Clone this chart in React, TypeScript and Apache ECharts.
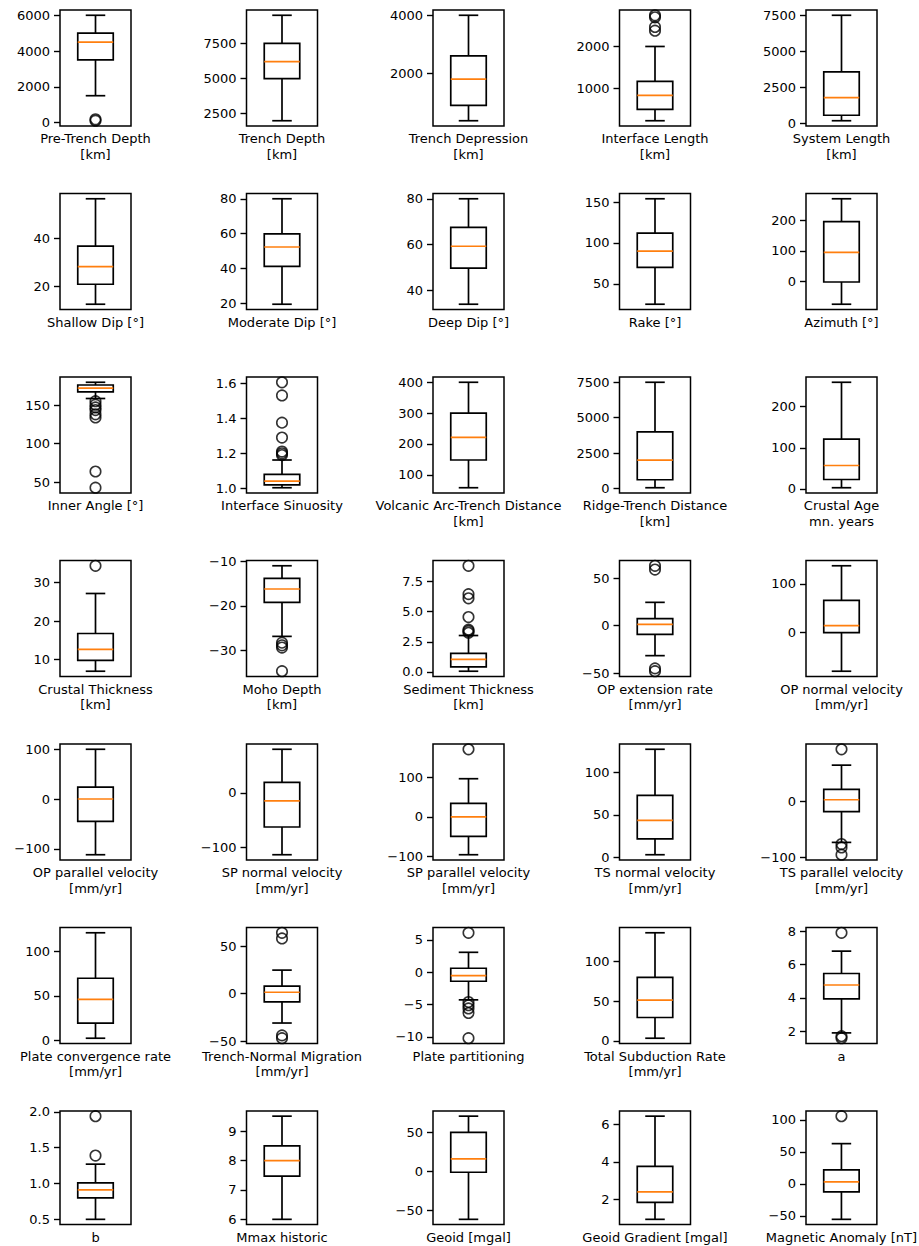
import React, { useEffect, useRef } from "react";
import * as echarts from "echarts";

// ---------------- data ----------------
const labels: string[] = [
  "Pre-Trench Depth\n[km]", "Trench Depth\n[km]", "Trench Depression\n[km]", "Interface Length\n[km]", "System Length\n[km]",
  "Shallow Dip [°]", "Moderate Dip [°]", "Deep Dip [°]", "Rake [°]", "Azimuth [°]",
  "Inner Angle [°]", "Interface Sinuosity", "Volcanic Arc-Trench Distance\n[km]", "Ridge-Trench Distance\n[km]", "Crustal Age\nmn. years",
  "Crustal Thickness\n[km]", "Moho Depth\n[km]", "Sediment Thickness\n[km]", "OP extension rate\n[mm/yr]", "OP normal velocity\n[mm/yr]",
  "OP parallel velocity\n[mm/yr]", "SP normal velocity\n[mm/yr]", "SP parallel velocity\n[mm/yr]", "TS normal velocity\n[mm/yr]", "TS parallel velocity\n[mm/yr]",
  "Plate convergence rate\n[mm/yr]", "Trench-Normal Migration\n[mm/yr]", "Plate partitioning", "Total Subduction Rate\n[mm/yr]", "a",
  "b", "Mmax historic", "Geoid [mgal]", "Geoid Gradient [mgal]", "Magnetic Anomaly [nT]",
];

const whiskerLow: number[] = [
  1500, 2000, 370, 215, 200,
  12.5, 19.4, 33.8, 25, -75,
  158.5, 1.004, 58, 50, 3,
  7, -26.8, 0.06, -31.6, -80,
  -112, -114, -95, 3, -73,
  2.3, -31, -4.27, 3.4, 1.9,
  0.5, 6.0, -62, 0.96, -55.5,
];
const quartile1: number[] = [
  3500, 5000, 900, 490, 580,
  20.8, 41.2, 49.6, 70, -2,
  167, 1.02, 148, 615, 23,
  9.8, -19.2, 0.42, -9.2, -0.7,
  -45, -63, -49, 21.7, -18,
  19.2, -8.8, -1.39, 29.4, 3.94,
  0.8, 7.47, -1.3, 1.86, -12.4,
];
const medians: number[] = [
  4500, 6200, 1800, 825, 1800,
  28.1, 52.3, 59.2, 90, 95,
  172, 1.042, 221, 2000, 57,
  12.7, -16.2, 1.04, 1.4, 14,
  0, -15, 0, 43.3, 3,
  46, 1.4, -0.51, 51.3, 4.77,
  0.91, 8.0, 16, 2.42, 3,
];
const quartile3: number[] = [
  5000, 7500, 2600, 1160, 3580,
  36.6, 59.8, 67.5, 112, 196,
  176, 1.08, 300, 4000, 121,
  16.8, -13.8, 1.54, 7.4, 66,
  24, 19, 34, 72.8, 21.6,
  69.8, 7.8, 0.62, 79.8, 5.46,
  1.01, 8.5, 50, 3.77, 22,
];
const whiskerHigh: number[] = [
  6000, 9500, 4000, 2000, 7500,
  56.3, 80, 80, 154, 271,
  179.5, 1.162, 400, 7500, 259,
  27.2, -11, 3.02, 24.5, 137,
  100, 80, 96, 127, 64.7,
  121, 24.7, 3.08, 135.7, 6.8,
  1.27, 9.51, 71, 6.43, 63,
];
const outliers: number[][] = [
  [100, 180], [], [], [2380, 2470, 2700, 2750], [],
  [], [], [], [], [],
  [155, 150.5, 147, 143.5, 138, 134, 64, 43], [1.19, 1.2, 1.21, 1.29, 1.375, 1.53, 1.605], [], [], [],
  [34.4], [-28.2, -28.8, -29.3, -34.6], [3.25, 3.4, 3.5, 4.55, 6.1, 6.45, 8.8], [-48, -45, 59, 63], [],
  [], [], [170], [], [-95, -82, -76, 93],
  [], [-47, -44, 58, 64], [-10.2, -6.3, -5.6, -5.1, -4.6, 6.1], [], [1.58, 1.7, 7.9],
  [1.39, 1.94], [], [], [], [106],
];
const tickValues: number[][] = [
  [0, 2000, 4000, 6000], [2500, 5000, 7500], [2000, 4000], [1000, 2000], [0, 2500, 5000, 7500],
  [20, 40], [20, 40, 60, 80], [40, 60, 80], [50, 100, 150], [0, 100, 200],
  [50, 100, 150], [1.0, 1.2, 1.4, 1.6], [100, 200, 300, 400], [0, 2500, 5000, 7500], [0, 100, 200],
  [10, 20, 30], [-30, -20, -10], [0, 2.5, 5, 7.5], [-50, 0, 50], [0, 100],
  [-100, 0, 100], [-100, 0], [-100, 0, 100], [0, 50, 100], [-100, 0],
  [0, 50, 100], [-50, 0, 50], [-10, -5, 0, 5], [0, 50, 100], [2, 4, 6, 8],
  [0.5, 1.0, 1.5, 2.0], [6, 7, 8, 9], [-50, 0, 50], [2, 4, 6], [-50, 0, 50, 100],
];

// ---------------- layout ----------------
const COL_LEFT = [60, 246.5, 433, 619.5, 806];
const ROW_TOP = [10, 193.5, 377, 560.5, 744, 927.5, 1111];
const PW = 71;
const PH = 116;
const FONT = "DejaVu Sans";
const LW = 1.7;

function decimalsOf(vals: number[]): number {
  let d = 0;
  vals.forEach((v) => {
    const s = String(v);
    const k = s.indexOf(".");
    if (k >= 0) d = Math.max(d, s.length - k - 1);
  });
  return d;
}

function buildOption() {
  const grid: any[] = [];
  const xAxis: any[] = [];
  const yAxis: any[] = [];
  const series: any[] = [];

  labels.forEach((label, i) => {
    const r = Math.floor(i / 5);
    const c = i % 5;
    grid.push({
      left: COL_LEFT[c],
      top: ROW_TOP[r],
      width: PW,
      height: PH,
      show: true,
      borderColor: "#000",
      borderWidth: 1.5,
      backgroundColor: "rgba(0,0,0,0)",
    });
    const all = [whiskerLow[i], whiskerHigh[i], ...outliers[i]];
    const lo = Math.min(...all);
    const hi = Math.max(...all);
    const pad = (hi - lo) * 0.05;
    const dec = decimalsOf(tickValues[i]);
    xAxis.push({
      type: "category",
      gridIndex: i,
      data: ["1"],
      boundaryGap: true,
      axisLine: { show: false },
      axisTick: { show: false },
      axisLabel: { show: false },
      splitLine: { show: false },
      name: label,
      nameLocation: "middle",
      nameGap: 5,
      nameTextStyle: {
        fontFamily: FONT,
        fontSize: 13,
        color: "#000",
        lineHeight: 15.5,
        verticalAlign: "top",
        align: "center",
      },
    });
    yAxis.push({
      type: "value",
      gridIndex: i,
      min: lo - pad,
      max: hi + pad,
      axisLine: { show: false },
      splitLine: { show: false },
      axisTick: {
        show: true,
        length: 6,
        customValues: tickValues[i],
        lineStyle: { color: "#000", width: 1.4 },
      },
      axisLabel: {
        show: true,
        customValues: tickValues[i],
        margin: 10,
        fontFamily: FONT,
        fontSize: 13,
        color: "#000",
        formatter: (v: number) => {
          const s = Math.abs(v).toFixed(dec);
          return v < 0 ? "\u2212" + s : s;
        },
      },
    });
    series.push({
      type: "custom",
      xAxisIndex: i,
      yAxisIndex: i,
      silent: true,
      data: [[0, whiskerLow[i], quartile1[i], medians[i], quartile3[i], whiskerHigh[i]]],
      encode: { x: 0, y: [1, 2, 3, 4, 5] },
      renderItem: (params: any, api: any) => {
        const xv = api.value(0);
        const pLo = api.coord([xv, api.value(1)]);
        const pQ1 = api.coord([xv, api.value(2)]);
        const pMed = api.coord([xv, api.value(3)]);
        const pQ3 = api.coord([xv, api.value(4)]);
        const pHi = api.coord([xv, api.value(5)]);
        const band = api.size([1, 0])[0];
        const bw = band * 0.5;
        const cw = bw * 0.55;
        const cx = pLo[0];
        const st = { stroke: "#000", lineWidth: LW, fill: null };
        return {
          type: "group",
          children: [
            { type: "line", shape: { x1: cx, y1: pLo[1], x2: cx, y2: pQ1[1] }, style: st },
            { type: "line", shape: { x1: cx, y1: pQ3[1], x2: cx, y2: pHi[1] }, style: st },
            { type: "line", shape: { x1: cx - cw / 2, y1: pLo[1], x2: cx + cw / 2, y2: pLo[1] }, style: st },
            { type: "line", shape: { x1: cx - cw / 2, y1: pHi[1], x2: cx + cw / 2, y2: pHi[1] }, style: st },
            {
              type: "rect",
              shape: { x: cx - bw / 2, y: pQ3[1], width: bw, height: pQ1[1] - pQ3[1] },
              style: { stroke: "#000", lineWidth: LW, fill: "none" },
            },
            {
              type: "line",
              shape: { x1: cx - bw / 2, y1: pMed[1], x2: cx + bw / 2, y2: pMed[1] },
              style: { stroke: "#ff7f0e", lineWidth: LW },
            },
          ],
        };
      },
    });
    if (outliers[i].length) {
      series.push({
        type: "scatter",
        xAxisIndex: i,
        yAxisIndex: i,
        silent: true,
        symbol: "circle",
        symbolSize: 10.5,
        data: outliers[i].map((v) => [0, v]),
        itemStyle: { color: "rgba(0,0,0,0)", borderColor: "#000", borderWidth: 1.6 },
        z: 5,
      });
    }
  });

  return {
    animation: false,
    backgroundColor: "#fff",
    grid,
    xAxis,
    yAxis,
    series,
  };
}

export default function App() {
  const ref = useRef<HTMLDivElement>(null);
  useEffect(() => {
    if (!ref.current) return;
    const chart = echarts.init(ref.current, undefined, { renderer: "svg" });
    chart.setOption(buildOption() as any);
    return () => chart.dispose();
  }, []);
  return (
    <div
      ref={ref}
      style={{ position: "absolute", left: 0, top: 0, width: 919, height: 1246, background: "#fff" }}
    />
  );
}
